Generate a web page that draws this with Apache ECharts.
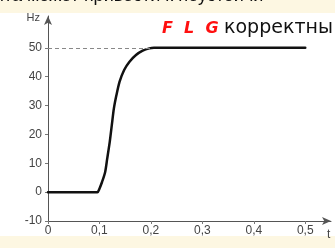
<!DOCTYPE html>
<html>
<head>
<meta charset="utf-8">
<script src="https://cdn.jsdelivr.net/npm/echarts@6/dist/echarts.min.js"></script>
<style>
html,body{margin:0;padding:0;background:#fff;}
#chart{width:335px;height:248px;}
</style>
</head>
<body>
<div id="chart"></div>
<script>
// время, с
var times = [0, 0.096, 0.100, 0.105, 0.111, 0.115, 0.120, 0.124, 0.128, 0.133, 0.139, 0.148, 0.158, 0.171, 0.184, 0.197, 0.206, 0.5];
// частота, Гц
var freqs = [0, 0, 1.2, 3.5, 6.9, 11.5, 17.4, 23.2, 28.9, 33.6, 38.2, 42.3, 45.1, 47.5, 49, 49.8, 50, 50];
var xTicks = [0, 0.1, 0.2, 0.3, 0.4, 0.5];
var yTicks = [-10, 0, 10, 20, 30, 40, 50];
var refLevel = 50;
var refEnd = 0.2;

var curve = times.map(function (t, i) { return [t, freqs[i]]; });

var myChart = echarts.init(document.getElementById('chart'));
var option = {
    animation: false,
    grid: {left: 48, right: 4, top: 16, bottom: 27},
    xAxis: {
        type: 'value',
        min: 0,
        max: 0.55,
        name: 't',
        nameLocation: 'end',
        nameGap: -4,
        nameTextStyle: {color: '#444', fontSize: 12, fontFamily: 'Liberation Sans', align: 'left', verticalAlign: 'top', padding: [8, 0, 0, 0]},
        splitLine: {show: false},
        axisLine: {onZero: false, symbol: ['none', 'arrow'], symbolSize: [6, 9], lineStyle: {color: '#555', width: 1}},
        axisTick: {customValues: xTicks, length: 3, lineStyle: {color: '#777'}},
        axisLabel: {
            customValues: xTicks,
            color: '#444', fontSize: 12, fontFamily: 'Liberation Sans', margin: 4,
            formatter: function (v) { return String(v).replace('.', ','); }
        }
    },
    yAxis: {
        type: 'value',
        min: -10,
        max: 61,
        name: 'Hz',
        nameLocation: 'end',
        nameGap: -2,
        nameTextStyle: {color: '#444', fontSize: 11, fontFamily: 'Liberation Sans', align: 'right', verticalAlign: 'middle', padding: [0, 8, 0, 0]},
        splitLine: {show: false},
        axisLine: {show: true, onZero: false, symbol: ['none', 'arrow'], symbolSize: [6, 9], lineStyle: {color: '#555', width: 1}},
        axisTick: {show: true, customValues: yTicks, length: 3, lineStyle: {color: '#777'}},
        axisLabel: {customValues: yTicks, color: '#444', fontSize: 12, fontFamily: 'Liberation Sans', margin: 6}
    },
    series: [
        {
            type: 'line',
            data: curve,
            smooth: 0.25,
            showSymbol: false,
            lineStyle: {color: '#111', width: 2.5, join: 'round', cap: 'round'},
            markLine: {
                silent: true,
                symbol: 'none',
                label: {show: false},
                lineStyle: {color: '#888', type: [4, 3], width: 1},
                data: [[{coord: [0, refLevel]}, {coord: [refEnd, refLevel]}]]
            }
        }
    ],
    graphic: [
        {type: 'rect', left: 0, top: 0, shape: {width: 335, height: 13}, style: {fill: '#fdf7e2'}, z: 0},
        {type: 'rect', left: 0, top: 236, shape: {width: 335, height: 12}, style: {fill: '#fdf7e2'}, z: 0},
        {type: 'text', left: -6, top: -13, style: {text: 'нта может привести к неустойчи', font: '18px "Liberation Sans"', fill: '#111'}, z: 1},
        {type: 'text', left: 162, top: 21, style: {text: 'F  L  G', font: 'italic bold 16px "DejaVu Sans"', fill: '#ff1010'}, z: 10},
        {type: 'text', left: 224, top: 19, style: {text: 'корректны', font: '19px "DejaVu Sans"', fill: '#111'}, z: 10}
    ]
};
myChart.setOption(option);
window.addEventListener('resize', function () { myChart.resize(); }, false);
</script>
</body>
</html>
